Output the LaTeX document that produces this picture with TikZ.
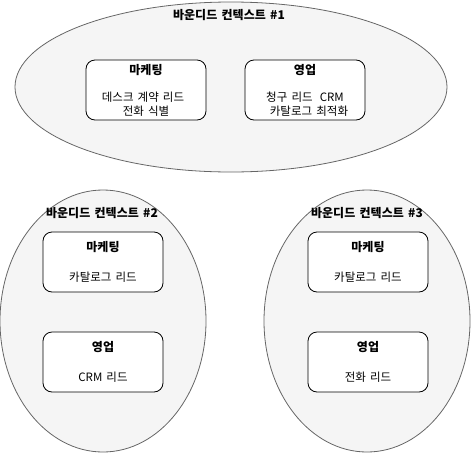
\documentclass[tikz,border=0pt]{standalone}
\usepackage{fontspec}
\setmainfont{Noto Sans CJK KR}[WordSpace=1.6]
\usetikzlibrary{shapes.geometric}
\definecolor{ctxfill}{HTML}{F5F5F5}
\definecolor{ctxline}{HTML}{666666}
\tikzset{
  ctx/.style={ellipse, draw=ctxline, fill=ctxfill, line width=0.8pt, inner sep=0pt},
  box/.style={draw=black, fill=white, rounded corners=9pt, line width=0.8pt,
    minimum width=120pt, minimum height=60pt, inner sep=0pt},
  ttl/.style={font=\fontsize{12}{14}\selectfont\bfseries, inner sep=0pt, anchor=center},
  txt/.style={font=\fontsize{11.5}{13}\selectfont, inner sep=0pt, anchor=center},
}
\begin{document}
\begin{tikzpicture}[x=1pt,y=-1pt]
\useasboundingbox (0,0) rectangle (471,453);
% contexts
\node[ctx, minimum width=432pt, minimum height=170pt] (c1) at (231,87) {};
\node[ctx, minimum width=206pt, minimum height=262pt] (c2) at (103,321) {};
\node[ctx, minimum width=206pt, minimum height=262pt] (c3) at (367,321) {};
\node[ttl] (t1) at (229,15) {바운디드 컨텍스트 \#1};
\node[ttl] (t2) at (102,213) {바운디드 컨텍스트 \#2};
\node[ttl] (t3) at (367,213) {바운디드 컨텍스트 \#3};
% context 1
\node[box] (m1) at (146,90) {};
\node[ttl] (m1t) at (146,70) {마케팅};
\node[txt] (m1a) at (143,97) {데스크 계약 리드};
\node[txt] (m1b) at (146,111) {전화 식별};
\node[box] (s1) at (305,90) {};
\node[ttl] (s1t) at (305,70) {영업};
\node[txt] (s1a) at (305,97) {청구 리드\hspace{3pt} CRM};
\node[txt] (s1b) at (309,111) {카탈로그 최적화};
% context 2
\node[box] (m2) at (103,262) {};
\node[ttl] (m2t) at (103,247) {마케팅};
\node[txt] (m2a) at (103,277) {카탈로그 리드};
\node[box] (s2) at (103,362) {};
\node[ttl] (s2t) at (103,347) {영업};
\node[txt] (s2a) at (103,377) {CRM 리드};
% context 3
\node[box] (m3) at (368,262) {};
\node[ttl] (m3t) at (368,247) {마케팅};
\node[txt] (m3a) at (368,277) {카탈로그 리드};
\node[box] (s3) at (368,362) {};
\node[ttl] (s3t) at (368,347) {영업};
\node[txt] (s3a) at (368,377) {전화 리드};
\end{tikzpicture}
\end{document}
